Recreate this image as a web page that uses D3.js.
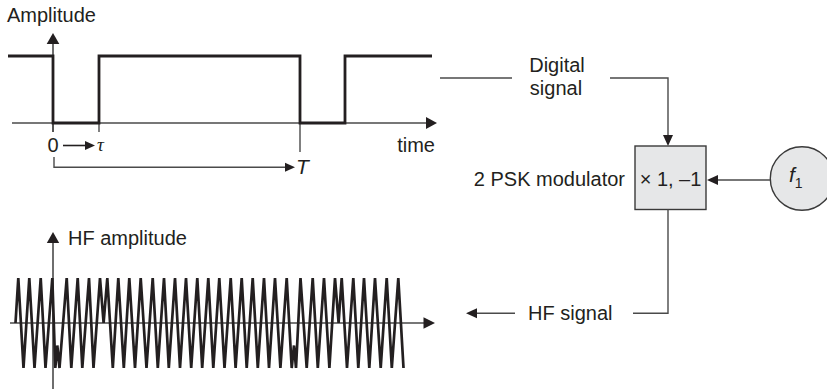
<!DOCTYPE html>
<html><head><meta charset="utf-8">
<script src="https://cdn.jsdelivr.net/npm/d3@7"></script>
<style>body{margin:0;background:#fff}svg{display:block}text{font-family:"Liberation Sans",Arial,sans-serif;fill:#231f20}</style>
</head><body><div id="chart"></div>
<script>
// ---- data (time in arbitrary units, 0 = start of first symbol) ----
const digitalEdges  = [-45, 0, 46, 247, 292, 379];   // segment boundaries
const digitalLevels = [1, 0, 1, 0, 1];                 // level per segment
const tickTimes     = [0, 46];                         // 0 and tau
const tickLabels    = ["0", "τ"];
const periodT       = 247;                             // T
// HF (2-PSK) waveform vertices: time, amplitude
const hfTimes = [-37.5,-34.7,-29.5,-23.7,-18.5,-12.3,-7.5,-0.7,2.3,4.3,6.5,13.7,18.3,24.7,29.3,36,40.5,47,50.6,54.3,59.8,65.3,70.8,76.3,82,87.7,93.5,99.7,104.8,111,115.8,122,127,133,138.2,144.3,149.2,155.3,160.3,166.3,171.5,177.7,182.6,188.7,193.7,199.7,204.8,211,216,222,227.4,233.7,238.7,241,243,247.5,253.7,259.7,264.8,271,276.4,282,285.6,288.7,294,300.3,305.3,311,316.3,322,327.7,333.7,338.8,345.3,350.5];
const hfAmps  = [0,1,-1,1,-1,1,-1,1,-1,-0.5,-1,1,-1,1,-1,1,-1,1,0,1,-1,1,-1,1,-1,1,-1,1,-1,1,-1,1,-1,1,-1,1,-1,1,-1,1,-1,1,-1,1,-1,1,-1,1,-1,1,-1,1,-1,-0.5,-1,1,-1,1,-1,1,-1,1,0,1,-1,1,-1,1,-1,1,-1,1,-1,1,-1];

const W = 827, H = 391;
const svg = d3.select("#chart").append("svg").attr("width", W).attr("height", H);
const ink = "#231f20", grey = "#4a4a4a";

const x = d3.scaleLinear().domain([-45, 384]).range([8, 437]);
const yD = d3.scaleLinear().domain([0, 1]).range([123, 56]);
const yH = d3.scaleLinear().domain([-1, 1]).range([368, 278]);

function head(x2, y2, dx, dy, len, hw) {
  const bx = x2 - dx * len, by = y2 - dy * len, px = -dy, py = dx;
  svg.append("path").attr("d", `M${x2},${y2}L${bx + px*hw},${by + py*hw}L${bx - px*hw},${by - py*hw}Z`).attr("fill", ink);
}
function arrow(x1, y1, x2, y2, len, hw, sw, col) {
  const d = Math.hypot(x2 - x1, y2 - y1), dx = (x2 - x1) / d, dy = (y2 - y1) / d;
  svg.append("line").attr("x1", x1).attr("y1", y1).attr("x2", x2 - dx*len*0.8).attr("y2", y2 - dy*len*0.8)
     .attr("stroke", col || grey).attr("stroke-width", sw || 1.4);
  head(x2, y2, dx, dy, len, hw);
}
function line(pts, sw, col) {
  svg.append("path").attr("d", d3.line()(pts)).attr("fill", "none").attr("stroke", col || grey).attr("stroke-width", sw || 1.4);
}

// ---------- digital signal panel ----------
svg.append("text").attr("x", 7).attr("y", 22).attr("font-size", 20).text("Amplitude");
arrow(x(-41), yD(0), x(384), yD(0), 11, 6, 1.6);          // time axis
arrow(x(0), 132, x(0), 33, 11, 6.3, 1.6);                 // amplitude axis
tickTimes.forEach(t => line([[x(t), yD(0)], [x(t), 132]], 1.4));
line([[x(periodT), yD(0)], [x(periodT), 152]], 1.4);

const digPts = digitalLevels.map((l, i) => [digitalEdges[i], l]);
digPts.push([digitalEdges[digitalEdges.length - 1], digitalLevels[digitalLevels.length - 1]]);
svg.append("path").datum(digPts)
  .attr("d", d3.line().x(d => x(d[0])).y(d => yD(d[1])).curve(d3.curveStepAfter))
  .attr("fill", "none").attr("stroke", ink).attr("stroke-width", 2.8).attr("stroke-linejoin", "miter");

svg.append("text").attr("x", x(tickTimes[0])).attr("y", 152).attr("font-size", 20).attr("text-anchor", "middle").text(tickLabels[0]);
arrow(x(tickTimes[0]) + 10, 145.5, x(tickTimes[1]) - 4, 145.5, 10, 4.5, 1.6, ink);
svg.append("text").attr("x", x(tickTimes[1]) - 2).attr("y", 151).attr("font-size", 19)
  .attr("font-style", "italic").style("font-family", "'Liberation Serif',serif").text(tickLabels[1]);
svg.append("text").attr("x", 435).attr("y", 152).attr("font-size", 20).attr("text-anchor", "end").text("time");
line([[x(0) + 1, 157], [x(0) + 1, 167.3], [x(periodT) - 12, 167.3]], 1.4);
head(x(periodT) - 5, 167.3, 1, 0, 10, 4.5);
svg.append("text").attr("x", x(periodT) - 4).attr("y", 174).attr("font-size", 21).attr("font-style", "italic").text("T");

// ---------- block diagram ----------
line([[440, 78], [512, 78]], 1.4);
svg.append("text").attr("x", 557).attr("y", 72).attr("font-size", 20).attr("text-anchor", "middle").text("Digital");
svg.append("text").attr("x", 556).attr("y", 95).attr("font-size", 20).attr("text-anchor", "middle").text("signal");
line([[610, 78], [668, 78], [668, 136]], 1.4);
head(668, 146, 0, 1, 11, 5);

svg.append("rect").attr("x", 635).attr("y", 146).attr("width", 71).attr("height", 63.5)
  .attr("fill", "#e6e7e8").attr("stroke", "#3a3a3a").attr("stroke-width", 1.4);
svg.append("text").attr("x", 670.5).attr("y", 186).attr("font-size", 20).attr("text-anchor", "middle").text("× 1, –1");
svg.append("text").attr("x", 625).attr("y", 186).attr("font-size", 20).attr("text-anchor", "end").text("2 PSK modulator");

svg.append("circle").attr("cx", 802).attr("cy", 178.5).attr("r", 31.7)
  .attr("fill", "#e6e7e8").attr("stroke", "#3a3a3a").attr("stroke-width", 1.4);
const ft = svg.append("text").attr("x", 789).attr("y", 182).attr("font-size", 21).attr("font-style", "italic");
ft.append("tspan").text("f");
ft.append("tspan").attr("dy", 6).attr("font-size", 14).attr("font-style", "normal").text("1");
arrow(770, 180, 707, 180, 11, 5, 1.4);

line([[668, 209.5], [668, 313.3], [633, 313.3]], 1.4);
svg.append("text").attr("x", 528).attr("y", 319.5).attr("font-size", 20).text("HF signal");
arrow(515, 313.3, 466, 313.3, 11, 5, 1.4);

// ---------- HF panel ----------
svg.append("text").attr("x", 68).attr("y", 245).attr("font-size", 20).text("HF amplitude");
arrow(x(-43), yH(0), x(382), yH(0), 11.5, 5.8, 1.6);
arrow(x(0), 389, x(0), 232, 11, 6.2, 1.6);
svg.append("path").datum(hfTimes.map((t, i) => [t, hfAmps[i]]))
  .attr("d", d3.line().x(d => x(d[0])).y(d => yH(d[1])))
  .attr("fill", "none").attr("stroke", ink).attr("stroke-width", 2.7).attr("stroke-linejoin", "miter").attr("stroke-miterlimit", 3);
</script></body></html>
